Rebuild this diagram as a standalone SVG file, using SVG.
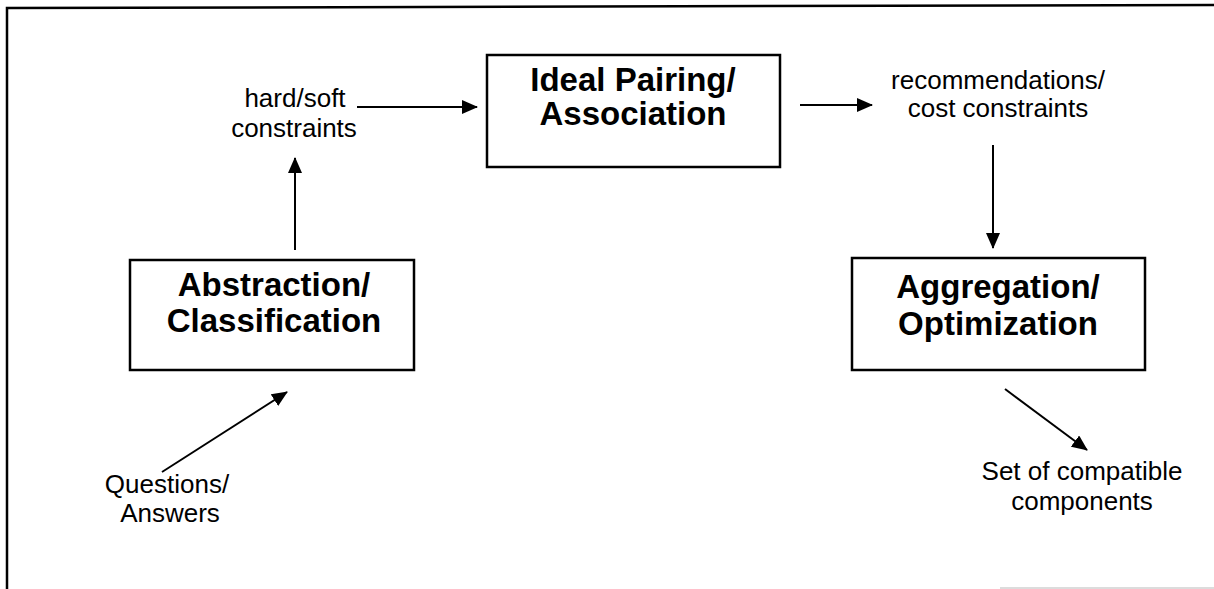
<svg xmlns="http://www.w3.org/2000/svg" width="1214" height="589" viewBox="0 0 1214 589">
  <style>
    .frame { stroke: #000; stroke-width: 2.5; fill: none; }
    .box { fill: #fff; stroke: #000; stroke-width: 2.5; }
    .title { font-family: "Liberation Sans", Arial, sans-serif; font-weight: bold; font-size: 33px; fill: #000; text-anchor: middle; }
    .label { font-family: "Liberation Sans", Arial, sans-serif; font-size: 26px; fill: #000; text-anchor: middle; }
    .conn { stroke: #000; stroke-width: 2; fill: none; marker-end: url(#arrow); }
  </style>
  <defs>
    <marker id="arrow" markerUnits="userSpaceOnUse" markerWidth="16" markerHeight="14" refX="15" refY="7" orient="auto">
      <path d="M0,0 L16,7 L0,14 Z" fill="#000"/>
    </marker>
  </defs>

  <rect width="1214" height="589" fill="#fff"/>

  <!-- outer frame: left and top edges, faint bottom-right trace -->
  <g id="frame">
    <path class="frame" d="M7,589 L7,8 L1214,5"/>
    <line x1="1000" y1="588" x2="1214" y2="588" stroke="#d0d0d0" stroke-width="1.5"/>
  </g>

  <!-- nodes -->
  <g id="ideal-pairing">
    <rect class="box" x="487" y="55" width="293" height="112"/>
    <text class="title" x="633" y="91">Ideal Pairing/</text>
    <text class="title" x="633" y="125">Association</text>
  </g>

  <g id="abstraction">
    <rect class="box" x="130" y="260" width="284" height="110"/>
    <text class="title" x="274" y="296">Abstraction/</text>
    <text class="title" x="274" y="332">Classification</text>
  </g>

  <g id="aggregation">
    <rect class="box" x="852" y="258" width="293" height="112"/>
    <text class="title" x="998" y="298">Aggregation/</text>
    <text class="title" x="998" y="335">Optimization</text>
  </g>

  <g id="hard-soft">
    <text class="label" x="295" y="107">hard/soft</text>
    <text class="label" x="294" y="137">constraints</text>
  </g>

  <g id="recommendations">
    <text class="label" x="998" y="89">recommendations/</text>
    <text class="label" x="998" y="117">cost constraints</text>
  </g>

  <g id="questions">
    <text class="label" x="167" y="493">Questions/</text>
    <text class="label" x="170" y="522">Answers</text>
  </g>

  <g id="components">
    <text class="label" x="1082" y="480">Set of compatible</text>
    <text class="label" x="1082" y="510">components</text>
  </g>

  <!-- connectors -->
  <g id="connectors">
    <line class="conn" x1="357" y1="107" x2="477" y2="107"/>
    <line class="conn" x1="295" y1="250" x2="295" y2="158"/>
    <line class="conn" x1="162" y1="472" x2="287" y2="392"/>
    <line class="conn" x1="800" y1="105" x2="872" y2="105"/>
    <line class="conn" x1="993" y1="145" x2="993" y2="248"/>
    <line class="conn" x1="1005" y1="389" x2="1087" y2="450"/>
  </g>
</svg>
